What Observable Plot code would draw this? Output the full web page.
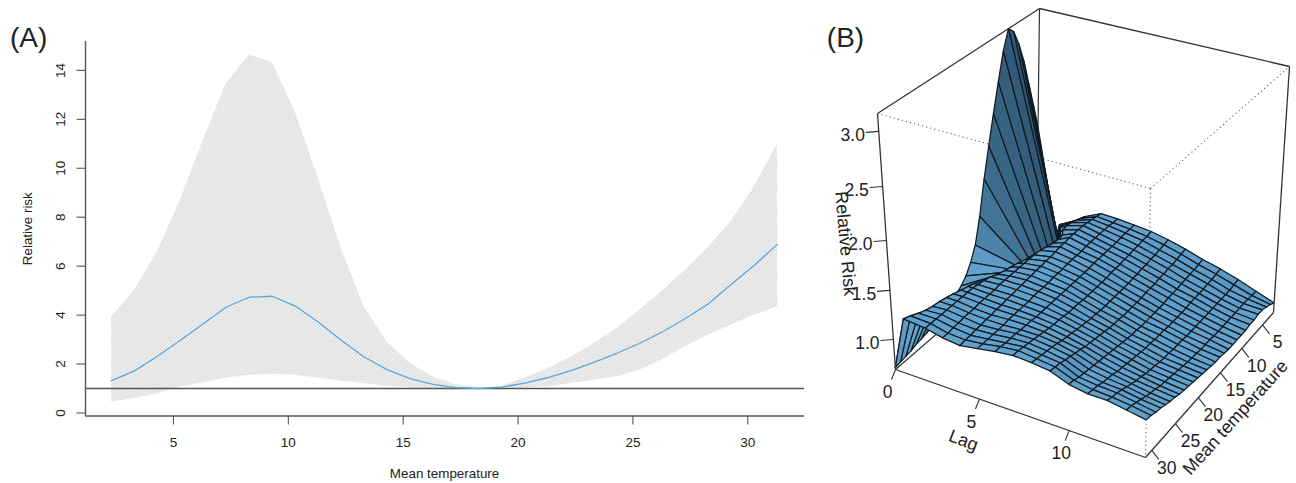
<!DOCTYPE html>
<html>
<head>
<meta charset="utf-8">
<style>
html,body{margin:0;padding:0;background:#fff;}
#wrap{display:flex;width:1296px;height:483px;overflow:hidden;}
svg{display:block;}
</style>
<script src="https://cdn.jsdelivr.net/npm/d3@7"></script>
<script src="https://cdn.jsdelivr.net/npm/@observablehq/plot@0.6"></script>
</head>
<body>
<div id="wrap"></div>
<script>
// ---------- Panel A ----------
const tempA = [2.3,3.3,4.3,5.3,6.3,7.3,8.3,9.3,10.3,11.3,12.3,13.3,14.3,15.3,16.3,17.3,18.3,19.3,20.3,21.3,22.3,23.3,24.3,25.3,26.3,27.3,28.3,29.3,30.3,31.3];
const rrMean = [1.32,1.72,2.32,2.97,3.65,4.33,4.73,4.77,4.37,3.72,2.97,2.29,1.77,1.40,1.17,1.04,1.0,1.06,1.22,1.45,1.73,2.07,2.44,2.85,3.32,3.87,4.47,5.27,6.05,6.90];
const rrUpper = [3.92,5.01,6.58,8.69,11.14,13.46,14.62,14.32,12.30,9.6,6.72,4.33,2.90,2.02,1.47,1.15,1.0,1.10,1.42,1.82,2.28,2.83,3.45,4.20,5.00,5.85,6.78,7.85,9.25,11.0];
const rrLower = [0.45,0.59,0.79,1.06,1.23,1.43,1.53,1.57,1.54,1.43,1.30,1.20,1.09,1.03,0.97,0.96,1.0,1.0,1.02,1.06,1.20,1.33,1.48,1.75,2.20,2.72,3.20,3.60,4.00,4.33];
const xTicksA = [5,10,15,20,25,30];
const yTicksA = [0,2,4,6,8,10,12,14];

// ---------- Panel B ----------
const tempB = [2.3,3.3,4.3,5.3,6.3,7.3,8.3,9.3,10.3,11.3,12.3,13.3,14.3,15.3,16.3,17.3,18.3,19.3,20.3,21.3,22.3,23.3,24.3,25.3,26.3,27.3,28.3,29.3,30.3,31.3];
const lagB = [0,1,2,3,4,5,6,7,8,9,10,11,12,13,14];
const ridgeLag = [1.2,1.5,1.85,2.15,2.45,2.75,3.0,3.05,3.0,2.9,2.8,2.7,2.6,2.45,2.35,2.25,2.15,2.0,1.9,1.8,1.7,1.6,1.45,1.35,1.25,1.15,1.05,.95,.8,.7];
const lag0  = [2.00,2.25,2.50,2.75,2.95,3.10,3.16,2.98,2.72,2.45,2.17,1.88,1.53,1.27,1.13,1.03,.97,.93,.90,.87,.85,.83,.81,.79,.78,.77,.75,.74,.73,.72];
const ridge = [.92,.95,1.00,1.05,1.10,1.15,1.17,1.17,1.17,1.17,1.17,1.17,1.17,1.18,1.18,1.18,1.19,1.20,1.21,1.22,1.23,1.23,1.23,1.23,1.23,1.22,1.22,1.23,1.24,1.25];
const lag2  = [1.05,1.08,1.12,1.16,1.20,1.21,1.21,1.21,1.21,1.21,1.21,1.21,1.21,1.21,1.21,1.21,1.21,1.22,1.22,1.22,1.23,1.23,1.23,1.23,1.23,1.23,1.23,1.23,1.23,1.23];
const lag3  = [1.17,1.19,1.21,1.23,1.24,1.24,1.24,1.24,1.24,1.24,1.24,1.23,1.23,1.23,1.23,1.23,1.23,1.23,1.23,1.22,1.22,1.22,1.22,1.21,1.21,1.21,1.20,1.20,1.19,1.19];
const lag4  = [1.25,1.26,1.27,1.28,1.29,1.29,1.29,1.29,1.28,1.28,1.27,1.26,1.26,1.25,1.25,1.24,1.24,1.23,1.23,1.22,1.22,1.21,1.21,1.20,1.20,1.19,1.19,1.18,1.18,1.17];
const lag5  = [1.24,1.24,1.25,1.25,1.25,1.25,1.25,1.25,1.24,1.24,1.24,1.24,1.23,1.23,1.23,1.22,1.22,1.22,1.22,1.21,1.21,1.21,1.21,1.21,1.20,1.20,1.20,1.20,1.20,1.20];
const lag6  = [1.22,1.22,1.22,1.22,1.21,1.21,1.21,1.21,1.21,1.21,1.20,1.20,1.20,1.20,1.20,1.20,1.20,1.20,1.20,1.20,1.20,1.20,1.21,1.21,1.21,1.22,1.22,1.22,1.23,1.23];
const lag7  = [1.20,1.19,1.19,1.18,1.18,1.17,1.17,1.16,1.16,1.16,1.15,1.15,1.15,1.15,1.15,1.15,1.16,1.16,1.16,1.17,1.18,1.18,1.19,1.20,1.21,1.22,1.23,1.24,1.25,1.25];
const lag8  = [1.16,1.15,1.14,1.13,1.13,1.12,1.12,1.11,1.11,1.10,1.10,1.10,1.10,1.10,1.10,1.10,1.11,1.11,1.12,1.13,1.14,1.15,1.16,1.17,1.19,1.20,1.21,1.22,1.23,1.24];
const lag9  = [1.11,1.10,1.09,1.08,1.08,1.07,1.07,1.06,1.06,1.06,1.05,1.05,1.05,1.05,1.05,1.06,1.06,1.07,1.08,1.09,1.10,1.11,1.12,1.14,1.15,1.17,1.18,1.20,1.21,1.22];
const lag10 = [1.05,1.04,1.03,1.03,1.02,1.02,1.01,1.01,1.01,1.00,1.00,1.00,1.00,1.00,1.00,1.01,1.01,1.02,1.03,1.04,1.05,1.06,1.07,1.08,1.09,1.10,1.11,1.12,1.14,1.15];
const lag11 = [1.00,.99,.98,.98,.97,.97,.97,.97,.96,.96,.96,.96,.96,.97,.97,.97,.98,.98,.99,1.00,1.01,1.02,1.03,1.04,1.06,1.07,1.08,1.10,1.11,1.12];
const lag12 = [.94,.93,.92,.92,.92,.92,.92,.92,.92,.92,.92,.92,.92,.93,.93,.93,.94,.94,.95,.96,.97,.98,1.00,1.01,1.03,1.05,1.07,1.09,1.10,1.12];
const lag13 = [.87,.87,.88,.88,.88,.88,.88,.88,.88,.88,.88,.89,.89,.89,.90,.90,.91,.92,.93,.94,.95,.96,.97,.99,1.00,1.02,1.04,1.06,1.08,1.09];
const lag14 = [.80,.83,.85,.87,.87,.86,.86,.85,.85,.85,.85,.85,.86,.87,.87,.88,.89,.90,.91,.92,.93,.94,.95,.97,.98,1.00,1.02,1.03,1.05,1.06];
const rrB = [lag0,ridge,lag2,lag3,lag4,lag5,lag6,lag7,lag8,lag9,lag10,lag11,lag12,lag13,lag14];
const flapLag = [0.7,1.0,1.3,1.6,1.9];
const flapRR  = [1.25,1.25,1.25,1.24,1.22];

const zTicksB = [1.0,1.5,2.0,2.5,3.0];
const lagTicksB = [0,5,10];
const tempTicksB = [5,10,15,20,25,30];

const cam = {
  c000:[895,369], c100:[1145,457], c010:[1036,247], c110:[1273,312],
  c001:[877,113], c101:[1150,188], c011:[1039,8],   c111:[1289,66]
};
const lagMax = 14, tWarm = 31.3, tCold = 2.3;
const zWarp = d3.scaleLinear([.7,1,1.5,2,2.5,3,3.16],[0,.117,.309,.504,.715,.93,1]);
const lerp = (a,b,f)=>[a[0]+(b[0]-a[0])*f, a[1]+(b[1]-a[1])*f];
function project(L,t,z){
  const u0=L/lagMax, v0=(tWarm-t)/(tWarm-tCold), w=zWarp(z);
  const u=u0*.91/(1-.09*u0), v=v0*1.1/(1+.1*v0);
  const bot=lerp(lerp(cam.c000,cam.c100,u),lerp(cam.c010,cam.c110,u),v);
  const top=lerp(lerp(cam.c001,cam.c101,u),lerp(cam.c011,cam.c111,u),v);
  return lerp(bot,top,w);
}
const lightDir=[-.5,0,.85];
function shade(a,b,c,d){
  const e1=[c[0]-a[0],c[1]-a[1],c[2]-a[2]], e2=[d[0]-b[0],d[1]-b[1],d[2]-b[2]];
  let n=[e1[1]*e2[2]-e1[2]*e2[1], e1[2]*e2[0]-e1[0]*e2[2], e1[0]*e2[1]-e1[1]*e2[0]];
  const len=Math.hypot(...n)||1; n=n.map(x=>x/len); if(n[2]<0) n=n.map(x=>-x);
  return n[0]*lightDir[0]+n[1]*lightDir[1]+n[2]*lightDir[2];
}
const unit=(L,t,z)=>[L/lagMax,(tWarm-t)/(tWarm-tCold),zWarp(z)];
const facets=[];
let fid=0;
function addFacet(corners){
  const un=corners.map(c=>unit(...c));
  const s=shade(...un); const id=fid++;
  corners.concat([corners[0]]).forEach(c=>{const p=project(...c); facets.push({id,s,px:p[0],py:p[1]});});
}
const lagAt=(i,j)=> i===0?0 : i===1?ridgeLag[j] : Math.max(lagB[i],ridgeLag[j]+.15*(i-1));
flapLag.forEach((l,i)=>{
  if(i<flapLag.length-1) addFacet([[0,tWarm,.72],[l,tWarm,flapRR[i]],[flapLag[i+1],tWarm,flapRR[i+1]],[0,tWarm,.72]]);
});
lagB.slice(0,-1).forEach((L,i)=>{
  tempB.slice(0,-1).forEach((t,j)=>{
    addFacet([[lagAt(i,j),t,rrB[i][j]],[lagAt(i,j+1),tempB[j+1],rrB[i][j+1]],[lagAt(i+1,j+1),tempB[j+1],rrB[i+1][j+1]],[lagAt(i+1,j),t,rrB[i+1][j]]]);
  });
});
const seg=(a,b)=>({x1:cam[a][0],y1:cam[a][1],x2:cam[b][0],y2:cam[b][1]});
const backEdges=[seg("c000","c010"),seg("c010","c011")];
const frontEdges=[seg("c000","c001"),seg("c001","c011"),seg("c011","c111"),seg("c111","c110"),seg("c110","c100"),seg("c100","c000")];
const dottedEdges=[seg("c001","c101"),seg("c101","c111"),seg("c101","c100")];

const zTickData=zTicksB.map(z=>{const p=project(0,tWarm,z);return {label:z.toFixed(1),x:p[0],y:p[1]};});
const lagTickData=lagTicksB.map(l=>{const p=project(l,tWarm,.7);return {label:String(l),x:p[0],y:p[1]};});
const tempTickData=tempTicksB.map(t=>{const p=project(lagMax,t,.7);return {label:String(t),x:p[0],y:p[1]};});

const font="Liberation Sans, Arial, sans-serif";

function hatchDefs(){
  const ns="http://www.w3.org/2000/svg";
  const defs=document.createElementNS(ns,"defs");
  const pat=document.createElementNS(ns,"pattern");
  pat.setAttribute("id","hatchA");pat.setAttribute("patternUnits","userSpaceOnUse");
  pat.setAttribute("width","2.4");pat.setAttribute("height","2.4");
  pat.setAttribute("patternTransform","rotate(45)");
  const bg=document.createElementNS(ns,"rect");
  bg.setAttribute("width","2.4");bg.setAttribute("height","2.4");bg.setAttribute("fill","#efefef");
  const ln=document.createElementNS(ns,"line");
  ln.setAttribute("x1","0");ln.setAttribute("y1","0");ln.setAttribute("x2","0");ln.setAttribute("y2","2.4");
  ln.setAttribute("stroke","#c9c9c9");ln.setAttribute("stroke-width","1");
  pat.append(bg,ln);defs.append(pat);
  return defs;
}

const axisColor="#555", textColor="#222";
const bandRows=tempA.map((t,i)=>({t,lo:rrLower[i],hi:rrUpper[i],m:rrMean[i]}));

const panelA=Plot.plot({
  width:820,height:483,
  marginLeft:85,marginRight:16,marginTop:41,marginBottom:67.5,
  style:{fontFamily:font,background:"transparent",overflow:"visible"},
  x:{domain:[1.17,32.47],axis:null},
  y:{domain:[-0.123,15.18],axis:null},
  marks:[
    hatchDefs,
    Plot.areaY(bandRows,{x:"t",y1:"lo",y2:"hi",fill:"url(#hatchA)"}),
    Plot.ruleY([1],{stroke:"#555",strokeWidth:1.3}),
    Plot.line(bandRows,{x:"t",y:"m",stroke:"#5aa8dc",strokeWidth:1.3}),
    Plot.ruleX([1.17],{stroke:axisColor,strokeWidth:1.4}),
    Plot.ruleY([-0.123],{stroke:axisColor,strokeWidth:1.4}),
    Plot.link(xTicksA,{x1:d=>d,x2:d=>d,y1:()=>-0.123,y2:()=>-0.47,stroke:axisColor,strokeWidth:1.1}),
    Plot.link(yTicksA,{y1:d=>d,y2:d=>d,x1:()=>1.17,x2:()=>0.78,stroke:axisColor,strokeWidth:1.1}),
    Plot.text(xTicksA,{x:d=>d,y:()=>-1.2,text:d=>String(d),fontSize:13.5,fill:textColor}),
    Plot.text(yTicksA,{y:d=>d,x:()=>0.08,text:d=>String(d),fontSize:13.5,fill:textColor,rotate:-90}),
    Plot.text(["Mean temperature"],{x:()=>16.8,y:()=>-2.49,text:d=>d,fontSize:13.4,fill:textColor}),
    Plot.text(["Relative risk"],{x:()=>-1.33,y:()=>7.53,text:d=>d,fontSize:13.4,fill:textColor,rotate:-90}),
    Plot.text(["(A)"],{x:()=>-1.31,y:()=>15.33,text:d=>d,fontSize:28,fill:"#222"})
  ]
});

const panelB=Plot.plot({
  width:476,height:483,margin:0,
  style:{fontFamily:font,background:"transparent",overflow:"visible"},
  x:{domain:[820,1296],range:[0,476],axis:null},
  y:{domain:[0,483],range:[0,483],axis:null},
  color:{type:"linear",domain:[-.3,.75],range:["#2f5673","#62a1cc"],clamp:true},
  marks:[
    Plot.link(backEdges,{x1:"x1",y1:"y1",x2:"x2",y2:"y2",stroke:"#333",strokeWidth:1.2}),
    Plot.line(facets,{x:"px",y:"py",z:"id",fill:"s",stroke:"#0f1a22",strokeWidth:1.25,strokeLinejoin:"round"}),
    Plot.link(frontEdges,{x1:"x1",y1:"y1",x2:"x2",y2:"y2",stroke:"#333",strokeWidth:1.3}),
    Plot.link(dottedEdges,{x1:"x1",y1:"y1",x2:"x2",y2:"y2",stroke:"#666",strokeWidth:1.1,strokeDasharray:"1.2 3"}),
    Plot.link(zTickData,{x1:"x",y1:"y",x2:d=>d.x-13,y2:d=>d.y+1,stroke:"#333",strokeWidth:1.1}),
    Plot.link(lagTickData,{x1:"x",y1:"y",x2:d=>d.x-4,y2:d=>d.y+10,stroke:"#333",strokeWidth:1.1}),
    Plot.link(tempTickData,{x1:"x",y1:"y",x2:d=>d.x+7,y2:d=>d.y+9,stroke:"#333",strokeWidth:1.1}),
    Plot.text(zTickData,{x:d=>d.x-26,y:d=>d.y+4,text:"label",fontSize:17.5,fill:textColor}),
    Plot.text(lagTickData,{x:d=>d.x-8,y:d=>d.y+23,text:"label",fontSize:17.5,fill:textColor}),
    Plot.text(tempTickData,{x:d=>d.x+15,y:d=>d.y+18,text:"label",fontSize:17.5,fill:textColor}),
    Plot.text(["Relative Risk"],{x:()=>845,y:()=>243,text:d=>d,fontSize:18,fill:textColor,rotate:85}),
    Plot.text(["Lag"],{x:()=>963,y:()=>440,text:d=>d,fontSize:18,fill:textColor,rotate:21}),
    Plot.text(["Mean temperature"],{x:()=>1235,y:()=>417,text:d=>d,fontSize:18,fill:textColor,rotate:-48}),
    Plot.text(["(B)"],{x:()=>845,y:()=>38,text:d=>d,fontSize:28,fill:"#222"})
  ]
});
document.getElementById("wrap").append(panelA,panelB);
</script>
</body>
</html>
